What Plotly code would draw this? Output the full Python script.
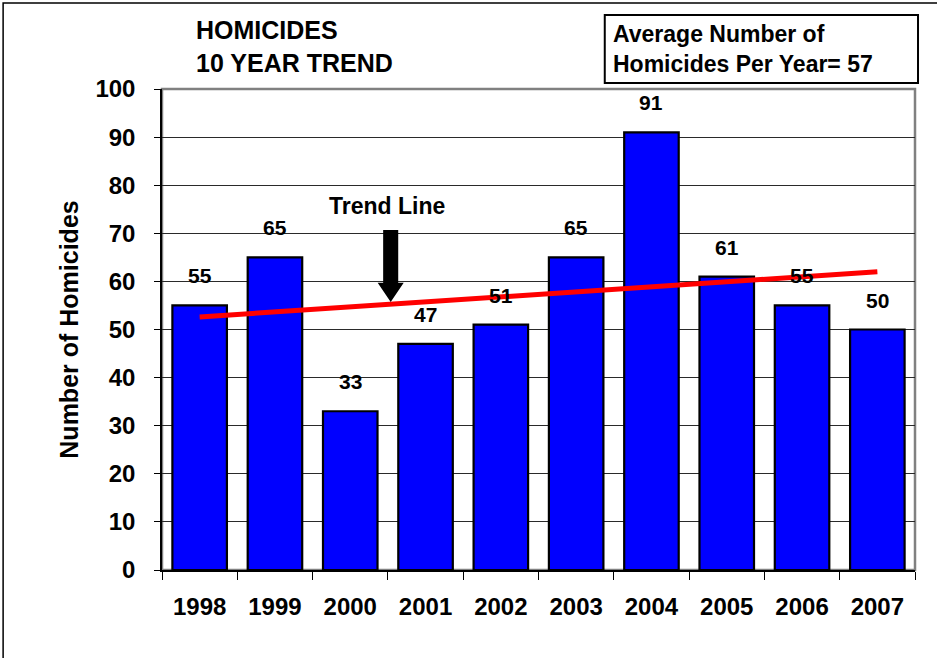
import plotly.graph_objects as go

# ---- data ----
years = ["1998", "1999", "2000", "2001", "2002", "2003", "2004", "2005", "2006", "2007"]
homicides = [55, 65, 33, 47, 51, 65, 91, 61, 55, 50]
trend_x = [0, 9]
trend_y = [52.6, 62.0]
y_ticks = [0, 10, 20, 30, 40, 50, 60, 70, 80, 90, 100]
average_text = "Average Number of<br>Homicides Per Year= 57"

FONT = "Liberation Sans, Arial, sans-serif"
x_idx = list(range(len(years)))

fig = go.Figure()
fig.add_trace(go.Bar(
    x=x_idx, y=homicides,
    marker=dict(color="#0000FF", line=dict(color="black", width=2.2)),
    hoverinfo="skip", showlegend=False,
))
fig.add_trace(go.Scatter(
    x=trend_x, y=trend_y, mode="lines",
    line=dict(color="#FF0000", width=5),
    hoverinfo="skip", showlegend=False,
))

# value labels above bars
for i, v in zip(x_idx, homicides):
    fig.add_annotation(x=i, y=v, text=str(v), showarrow=False,
                       yanchor="bottom", yshift=16,
                       font=dict(family=FONT, size=21, color="black", weight="bold"))

# Trend Line label and arrow
arrow_x = 2.537
arrow_top, arrow_head, arrow_tip = 70.7, 59.7, 55.7
shaft, head = 0.10, 0.173
fig.add_annotation(x=2.49, y=75.6, text="Trend Line", showarrow=False,
                   font=dict(family=FONT, size=23, color="black", weight="bold"))
fig.add_shape(type="path", xref="x", yref="y",
              path=(f"M {arrow_x-shaft},{arrow_top} L {arrow_x+shaft},{arrow_top} "
                    f"L {arrow_x+shaft},{arrow_head} L {arrow_x+head},{arrow_head} "
                    f"L {arrow_x},{arrow_tip} L {arrow_x-head},{arrow_head} "
                    f"L {arrow_x-shaft},{arrow_head} Z"),
              fillcolor="black", line=dict(color="black", width=0))

# plot area border (grey)
fig.add_shape(type="rect", xref="paper", yref="paper", x0=0, x1=1, y0=0, y1=1,
              line=dict(color="#808080", width=2.5), layer="below")

# outer frame
fig.add_shape(type="rect", xref="paper", yref="paper",
              x0=-0.211, x1=1.1, y0=-0.3, y1=1.179,
              line=dict(color="black", width=1.5))

# title
fig.add_annotation(xref="paper", yref="paper", x=0.0425, y=1.089,
                   xanchor="left", yanchor="middle", align="left",
                   text="HOMICIDES<br>10 YEAR TREND", showarrow=False,
                   font=dict(family=FONT, size=25, color="black", weight="bold"))

# average box
fig.add_shape(type="rect", xref="paper", yref="paper",
              x0=0.588, x1=1.004, y0=1.0125, y1=1.154,
              line=dict(color="black", width=2), fillcolor="white")
fig.add_annotation(xref="paper", yref="paper", x=0.596, y=1.0835,
                   xanchor="left", yanchor="middle", align="left",
                   text=average_text, showarrow=False,
                   font=dict(family=FONT, size=23, color="black", weight="bold"))

fig.update_layout(
    width=937, height=658,
    margin=dict(l=162, r=22, t=89, b=88),
    paper_bgcolor="white", plot_bgcolor="white",
    bargap=0.276,
    font=dict(family=FONT, color="black"),
)
fig.update_xaxes(
    range=[-0.5, 9.5], tickmode="array", tickvals=x_idx, ticktext=years,
    ticks="", showgrid=False, zeroline=False,
    showline=True, linecolor="black", linewidth=1.5,
    tickfont=dict(family=FONT, size=24, color="black", weight="bold"),
    ticklabelstandoff=14,
    minor=dict(tickmode="array", tickvals=[i - 0.5 for i in range(len(years) + 1)],
               ticks="outside", ticklen=8, tickcolor="black", tickwidth=1.2, showgrid=False),
)
fig.update_yaxes(
    range=[0, 100], tickmode="array", tickvals=y_ticks,
    ticks="outside", ticklen=6, tickcolor="black", tickwidth=1.2,
    showgrid=True, gridcolor="#2a2a2a", gridwidth=1, zeroline=False,
    showline=True, linecolor="black", linewidth=1.5,
    tickfont=dict(family=FONT, size=24, color="black", weight="bold"),
    ticklabelstandoff=14,
    title=dict(text="Number of Homicides", standoff=10,
               font=dict(family=FONT, size=25, color="black", weight="bold")),
)

fig.write_html("out.html",
               config={"displayModeBar": False},
               post_script="document.body.style.margin='0';document.body.style.overflow='hidden';")
